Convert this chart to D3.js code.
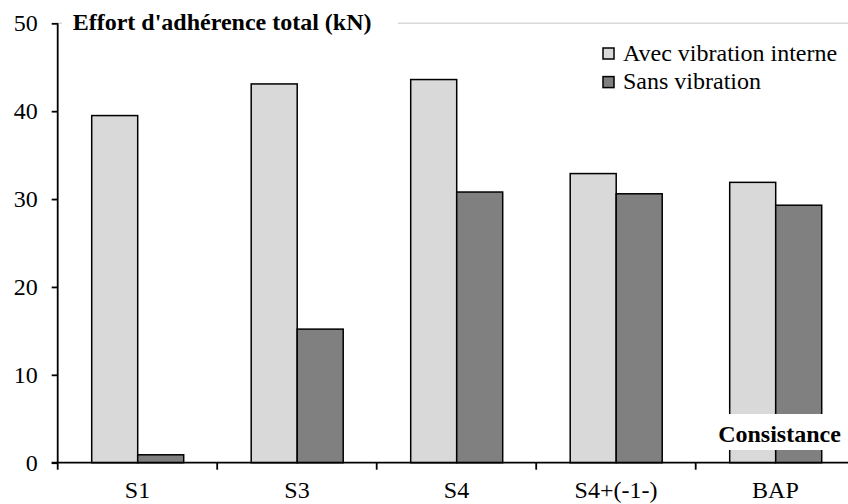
<!DOCTYPE html>
<html>
<head>
<meta charset="utf-8">
<script src="https://cdn.jsdelivr.net/npm/d3@7"></script>
<style>
  html, body { margin: 0; padding: 0; background: #fff; }
  svg text { font-family: 'Liberation Serif', 'Times New Roman', Times, serif !important; }
</style>
</head>
<body>
<svg id="chart" width="848" height="504"></svg>
<script>
const categories = ["S1", "S3", "S4", "S4+(-1-)", "BAP"];
const seriesNames = ["Avec vibration interne", "Sans vibration"];
const avecVibration = [39.5, 43.1, 43.6, 32.9, 31.9];
const sansVibration = [0.9, 15.2, 30.8, 30.6, 29.3];
const yTicks = [0, 10, 20, 30, 40, 50];
const titleText = "Effort d'adhérence total (kN)";
const noteText = "Consistance";
const colors = ["#d9d9d9", "#808080"];

const svg = d3.select("#chart");
const W = 848, H = 504;
const x0 = 57.7, step = 159.5;
const yBottom = 462.7, yTop = 23.3;

const x = d3.scaleBand().domain(categories).range([x0, x0 + step * categories.length]).padding(0);
const xs = d3.scaleBand().domain(seriesNames).range([34, 126]).padding(0);
const y = d3.scaleLinear().domain([0, 50]).range([yBottom, yTop]);

const table = categories.map((c, i) => ({cat: c, values: [avecVibration[i], sansVibration[i]]}));

// top border / gridline at 50
svg.append("line")
  .attr("x1", x0).attr("x2", W)
  .attr("y1", y(50)).attr("y2", y(50))
  .attr("stroke", "#d9d9d9").attr("stroke-width", 1.5);

// bars
const groups = svg.append("g").selectAll("g").data(table).join("g")
  .attr("transform", d => `translate(${x(d.cat)},0)`);
groups.selectAll("rect").data(d => d.values.map((v, j) => ({v, s: seriesNames[j], j})))
  .join("rect")
  .attr("x", d => xs(d.s))
  .attr("width", xs.bandwidth())
  .attr("y", d => y(d.v))
  .attr("height", d => y(0) - y(d.v))
  .attr("fill", d => colors[d.j])
  .attr("stroke", "#000").attr("stroke-width", 1.5);

// y axis
const yAxis = svg.append("g").attr("transform", `translate(${x0},0)`)
  .call(d3.axisLeft(y).tickValues(yTicks).tickSize(6).tickPadding(14).tickFormat(d3.format("d")));
yAxis.attr("font-family", null);
yAxis.select(".domain").attr("stroke", "#000").attr("stroke-width", 1.8).attr("d", `M0,${yTop}V${yBottom}`);
yAxis.selectAll(".tick line").attr("stroke", "#000").attr("stroke-width", 1.8);
yAxis.selectAll("text").attr("font-size", 24).attr("fill", "#000");

// x axis
const xAxis = svg.append("g").attr("transform", `translate(0,${yBottom})`)
  .call(d3.axisBottom(x).tickSize(0).tickPadding(18));
xAxis.attr("font-family", null);
xAxis.select(".domain").remove();
xAxis.append("line").attr("x1", x0 - 6).attr("x2", W).attr("y1", 0).attr("y2", 0)
  .attr("stroke", "#000").attr("stroke-width", 1.8);
const boundaries = categories.map(c => x(c));
xAxis.selectAll(".btick").data(boundaries).join("line").attr("class", "btick")
  .attr("x1", d => d).attr("x2", d => d).attr("y1", 0).attr("y2", 7)
  .attr("stroke", "#000").attr("stroke-width", 1.8);
xAxis.selectAll("text").attr("font-size", 24).attr("fill", "#000");

// title with white background
svg.append("rect").attr("x", 62).attr("y", 8).attr("width", 336).attr("height", 30).attr("fill", "#fff");
svg.append("text").attr("x", 72.7).attr("y", 29.5)
  .attr("font-size", 24).attr("font-weight", "bold").attr("fill", "#000")
  .text(titleText);

// legend
const legend = svg.append("g").selectAll("g").data(seriesNames).join("g")
  .attr("transform", (d, i) => `translate(603,${48 + i * 28.6})`);
legend.append("rect").attr("width", 11).attr("height", 11)
  .attr("fill", (d, i) => colors[i]).attr("stroke", "#000").attr("stroke-width", 1.5);
legend.append("text").attr("x", 20).attr("y", 12.5)
  .attr("font-size", 24).attr("fill", "#000").text(d => d);

// note "Consistance" with white background
svg.append("rect").attr("x", 714).attr("y", 414).attr("width", 134).attr("height", 36).attr("fill", "#fff");
svg.append("text").attr("x", 779.5).attr("y", 442).attr("text-anchor", "middle")
  .attr("font-size", 24).attr("font-weight", "bold").attr("fill", "#000")
  .text(noteText);
</script>
</body>
</html>
